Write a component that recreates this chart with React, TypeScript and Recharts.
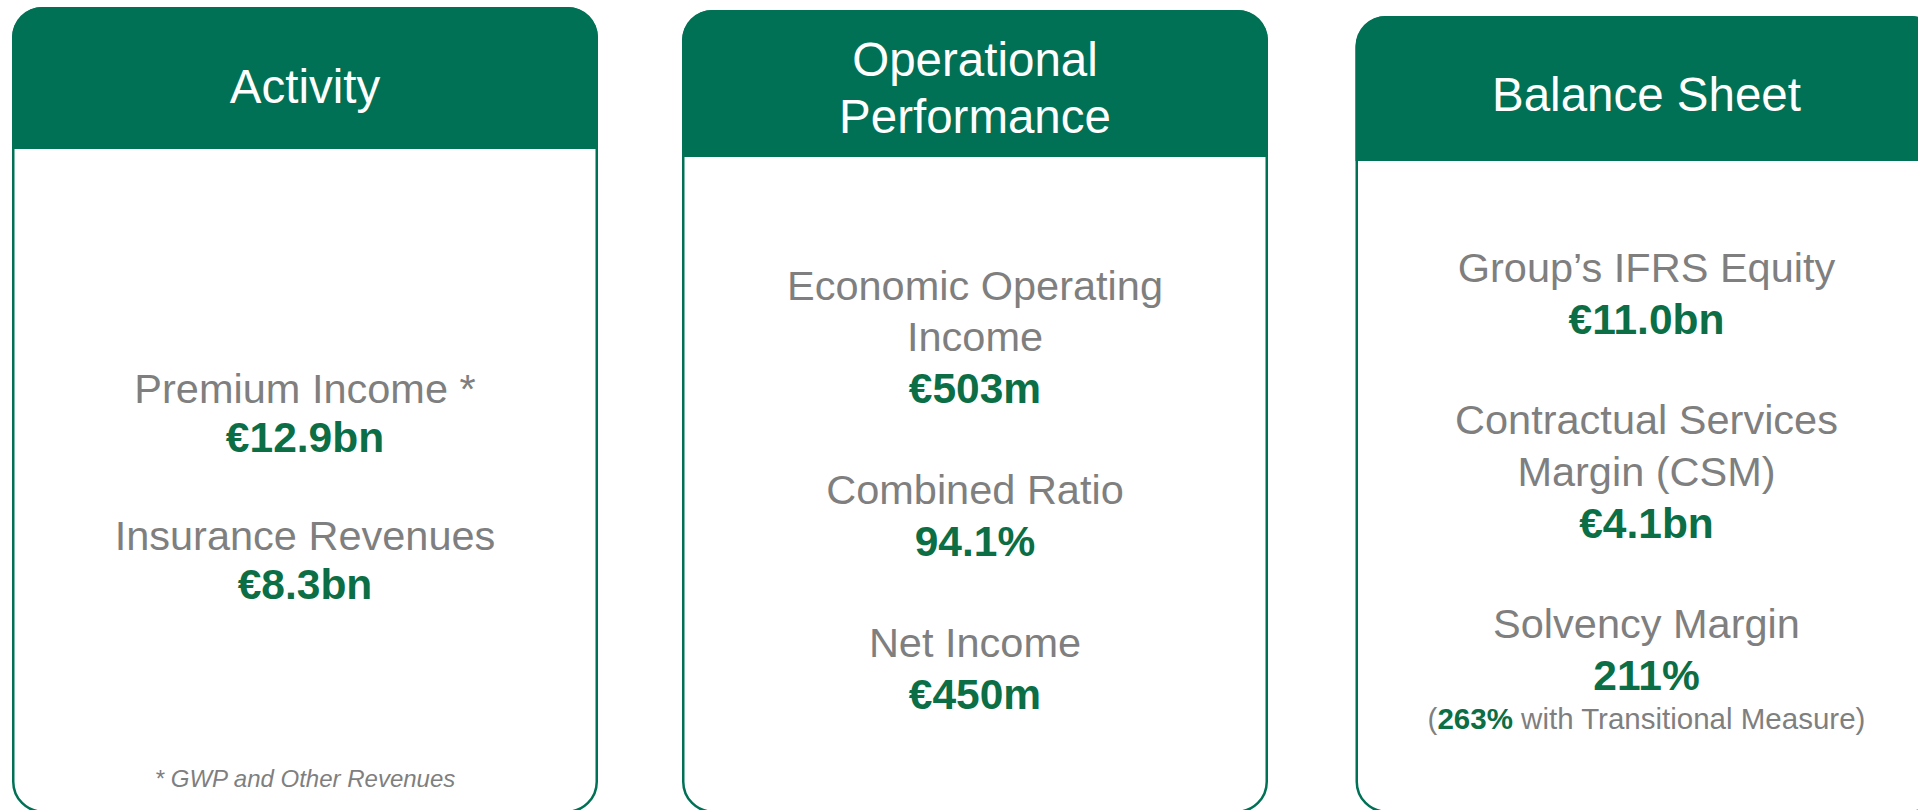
import { Bar, BarChart, XAxis, YAxis } from "recharts"

// three summary cards, one bar each
const cardKeys = ["activity", "operational", "balance"]
const cardTitles = [["Activity"], ["Operational", "Performance"], ["Balance Sheet"]]
const metricLabels = [
  [["Premium Income *"], ["Insurance Revenues"]],
  [["Economic Operating", "Income"], ["Combined Ratio"], ["Net Income"]],
  [["Group’s IFRS Equity"], ["Contractual Services", "Margin (CSM)"], ["Solvency Margin"]],
]
const metricValues = [
  ["€12.9bn", "€8.3bn"],
  ["€503m", "94.1%", "€450m"],
  ["€11.0bn", "€4.1bn", "211%"],
]
const cardNotes = ["* GWP and Other Revenues", "", ""]
const transitionalRatio = "263%"
const transitionalText = " with Transitional Measure"

const data = cardKeys.map((key) => ({ key, full: 1 }))

// layout (px)
const cardDx = [0, 0, 3.5]
const textDx = [0, 0, -2]
const cardTop = [0, 3, 9]
const headerH = [142, 147, 145]
const titleY = [[79], [49, 106], [78]]
const firstLine = [381, 278, 260]
const lineStep = [49, 51.5, 52]
const groupGap = [98, 101.5, 100]

const HEADER = "#017156"
const VALUE = "#0b6e45"
const GRAY = "#7f7f7f"
const FONT = "'Liberation Sans', Arial, sans-serif"

function Card(props: any) {
  const { y, width, height, index } = props
  const x = props.x + cardDx[index]
  const top = y + cardTop[index]
  const bottom = y + height
  const r = 30
  const hb = top + headerH[index]
  const cx = x + width / 2 + textDx[index]
  const nodes: any[] = []
  let yy = y + firstLine[index]
  metricLabels[index].forEach((lines, m) => {
    lines.forEach((line, l) => {
      nodes.push(
        <text key={`l${m}-${l}`} x={cx} y={yy + 14.5} textAnchor="middle" fontSize={41.5} fill={GRAY}>
          {line}
        </text>
      )
      yy += lineStep[index]
    })
    nodes.push(
      <text key={`v${m}`} x={cx} y={yy + 15} textAnchor="middle" fontSize={42.5} fontWeight="bold" fill={VALUE}>
        {metricValues[index][m]}
      </text>
    )
    if (index === 2 && m === metricLabels[index].length - 1) {
      nodes.push(
        <text key="sub" x={cx} y={yy + 43 + 11} textAnchor="middle" fontSize={29.5} fill={GRAY}>
          (<tspan fontWeight="bold" fill={VALUE}>{transitionalRatio}</tspan>
          {transitionalText})
        </text>
      )
    }
    yy += groupGap[index]
  })

  return (
    <g fontFamily={FONT}>
      <rect x={x + 1.25} y={top + 1.25} width={width - 2.5} height={bottom - top - 2.5} rx={r} ry={r} fill="#fff" stroke={HEADER} strokeWidth={2.5} />
      <path
        d={`M${x},${hb} L${x},${top + r} A${r},${r} 0 0 1 ${x + r},${top} L${x + width - r},${top} A${r},${r} 0 0 1 ${x + width},${top + r} L${x + width},${hb} Z`}
        fill={HEADER}
      />
      {cardTitles[index].map((t, i) => (
        <text key={t} x={cx} y={top + titleY[index][i] + 16.5} textAnchor="middle" fontSize={47.5} fill="#fff">
          {t}
        </text>
      ))}
      {nodes}
      {cardNotes[index] && (
        <text x={cx} y={787} textAnchor="middle" fontSize={24} fontStyle="italic" fill={GRAY}>
          {cardNotes[index]}
        </text>
      )}
    </g>
  )
}

export default function App() {
  return (
    <div style={{ position: "absolute", left: 0, top: 0, width: 1918, height: 810, overflow: "hidden", background: "#fff" }}>
      <div style={{ position: "absolute", left: -30.5, top: 0 }}>
        <BarChart width={2010} height={830} data={data} margin={{ top: 7, right: 0, bottom: 17, left: 0 }} barSize={586}>
          <XAxis dataKey="key" hide />
          <YAxis hide domain={[0, 1]} />
          <Bar dataKey="full" isAnimationActive={false} shape={(p: any) => <Card {...p} />} />
        </BarChart>
      </div>
    </div>
  )
}
